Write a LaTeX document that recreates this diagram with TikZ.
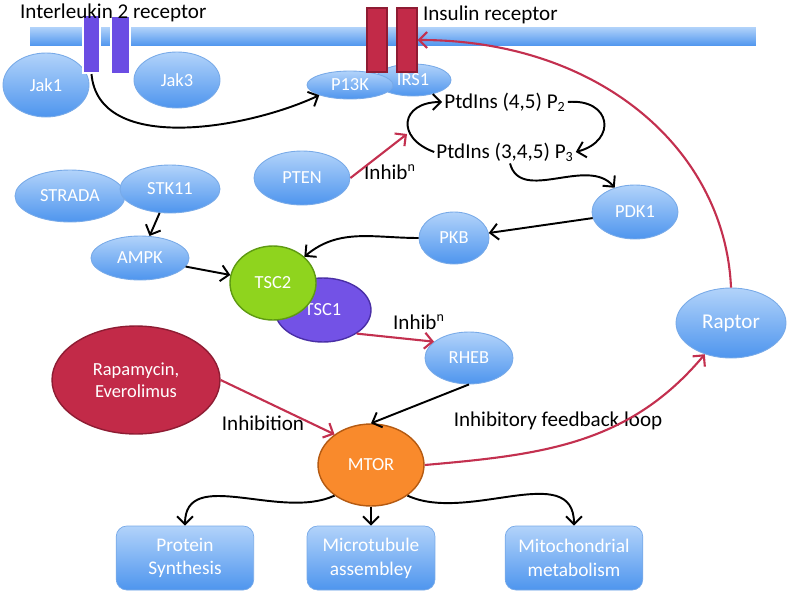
\documentclass[tikz,border=0pt]{standalone}
\usepackage{fontspec}
\setmainfont{Carlito}
\usetikzlibrary{shapes.geometric,arrows.meta}

\definecolor{bluetop}{HTML}{B2D3FA}
\definecolor{bluebot}{HTML}{4E95EE}
\definecolor{blueedge}{HTML}{78AAE8}
\definecolor{inhred}{HTML}{C3304F}
\definecolor{drugred}{HTML}{C22A48}
\definecolor{drugedge}{HTML}{8E1C33}
\definecolor{ilpurple}{HTML}{6B4DE3}
\definecolor{tscgreen}{HTML}{8FD41E}
\definecolor{tscgreenedge}{HTML}{5E9A12}
\definecolor{tscpurple}{HTML}{7352E6}
\definecolor{tscpurpleedge}{HTML}{4A2FA6}
\definecolor{mtororange}{HTML}{F98A2C}
\definecolor{mtoredge}{HTML}{B45A12}

\begin{document}
\begin{tikzpicture}[
  x=0.02cm, y=-0.02cm,
  every node/.style={font=\fontsize{10.5}{12.5}\selectfont},
  prot/.style={ellipse, draw=blueedge, line width=0.5pt, top color=bluetop, bottom color=bluebot, text=white, inner sep=0pt},
  recep/.style={rectangle, inner sep=0pt, minimum width=0.36cm, minimum height=1.2cm},
  outbox/.style={rectangle, rounded corners=6pt, draw=blueedge, top color=bluetop, bottom color=bluebot, text=white, align=center, minimum width=2.75cm, minimum height=1.28cm, font=\fontsize{11}{13.5}\selectfont},
  lbl/.style={font=\fontsize{12}{14}\selectfont, inner sep=1pt},
  arrow/.style={-{Straight Barb[length=1.6mm,width=3.2mm]}, line width=1.1pt},
  inhib/.style={arrow, draw=inhred, line width=1.2pt}
]
\useasboundingbox (0,0) rectangle (793,598);

% Membrane
\node[rectangle, inner sep=0pt, top color=bluetop, bottom color=bluebot, minimum width=14.52cm, minimum height=0.38cm] (membrane) at (393,36.5) {};

% Receptor complexes
\node[prot, minimum width=1.72cm, minimum height=1.28cm] (jak1) at (46,85) {Jak1};
\node[prot, minimum width=1.72cm, minimum height=1.12cm] (jak3) at (177,80) {Jak3};
\node[prot, minimum width=1.52cm, minimum height=0.64cm] (irs1) at (413,80) {IRS1};
\node[prot, minimum width=1.72cm, minimum height=0.56cm] (pik) at (350,85) {P13K};

\node[recep, fill=ilpurple, draw=white, line width=1.2pt, minimum width=0.34cm, minimum height=1.16cm] (il2a) at (91.5,44) {};
\node[recep, fill=ilpurple, draw=white, line width=1.2pt, minimum width=0.38cm, minimum height=1.16cm] (il2b) at (120.5,45) {};
\node[recep, fill=drugred, draw=drugedge, line width=0.8pt, minimum width=0.4cm, minimum height=1.28cm] (insa) at (377,40) {};
\node[recep, fill=drugred, draw=drugedge, line width=0.8pt, minimum width=0.4cm, minimum height=1.28cm] (insb) at (407,40) {};

\node[lbl, anchor=west] (il2lbl) at (18,13) {Interleukin 2 receptor};
\node[lbl, anchor=west] (inslbl) at (421,15) {Insulin receptor};

% Lipids
\node[lbl] (pip2) at (505,102) {PtdIns (4,5) P\textsubscript{2}};
\node[lbl] (pip3) at (505,152) {PtdIns (3,4,5) P\textsubscript{3}};
\coordinate (cyc) at (407,134);

% Signalling proteins
\node[prot, minimum width=1.92cm, minimum height=1.08cm] (pten) at (302,178) {PTEN};
\node[prot, minimum width=2.2cm, minimum height=1.04cm] (strada) at (70,196) {STRADA};
\node[prot, minimum width=2.0cm, minimum height=0.96cm] (stk11) at (170,189) {STK11};
\node[prot, minimum width=1.96cm, minimum height=0.88cm] (ampk) at (140,258) {AMPK};
\node[prot, minimum width=1.4cm, minimum height=1.04cm] (pkb) at (454,238) {PKB};
\node[prot, minimum width=1.72cm, minimum height=1.08cm] (pdk1) at (635,212) {PDK1};
\node[prot, minimum width=2.2cm, minimum height=1.4cm, font=\fontsize{12}{14}\selectfont] (raptor) at (731,323) {Raptor};
\node[prot, minimum width=1.76cm, minimum height=1.04cm] (rheb) at (469,358) {RHEB};

\node[ellipse, draw=tscpurpleedge, fill=tscpurple, line width=0.8pt, text=white, inner sep=0pt, minimum width=1.92cm, minimum height=1.28cm] (tsc1) at (323,310) {TSC1};
\node[ellipse, draw=tscgreenedge, fill=tscgreen, line width=0.8pt, text=white, inner sep=0pt, minimum width=1.72cm, minimum height=1.48cm] (tsc2) at (273,283) {TSC2};

\node[ellipse, draw=drugedge, fill=drugred, line width=0.8pt, text=white, align=center, inner sep=0pt, minimum width=3.36cm, minimum height=2.16cm] (rapa) at (136,380) {Rapamycin,\\Everolimus};
\node[ellipse, draw=mtoredge, fill=mtororange, line width=0.8pt, text=white, inner sep=0pt, minimum width=2.12cm, minimum height=1.64cm] (mtor) at (371,465) {MTOR};

% Outputs
\node[outbox] (prot) at (185,558) {Protein\\Synthesis};
\node[outbox, minimum width=2.56cm] (micro) at (371,558) {Microtubule\\assembley};
\node[outbox] (mito) at (574,558) {Mitochondrial\\metabolism};

% Labels
\node[lbl] (inhib1) at (390,172) {Inhib\textsuperscript{n}};
\node[lbl] (inhib2) at (419,322) {Inhib\textsuperscript{n}};
\node[lbl] (inhib3) at (263,423) {Inhibition};
\node[lbl] (fbl) at (558,421) {Inhibitory feedback loop};

% Arrows
\draw[arrow] (il2a.south) to[out=-85,in=205,looseness=0.9] (pik.south west);
\draw[arrow] (pip3.west) to[out=160,in=180,looseness=2.1] (pip2.west);
\draw[arrow] (pip2.east) to[out=5,in=15,looseness=2.2] (pip3.east);
\draw[inhib] (pten.east) -- (cyc);
\draw[arrow] ([xshift=0.1cm]pip3.south) to[out=-75,in=130] (pdk1);
\draw[arrow] (pdk1) -- (pkb);
\draw[arrow] (pkb.west) to[out=180,in=40] (tsc2);
\draw[arrow] (stk11) -- (ampk);
\draw[arrow] (ampk) -- (tsc2);
\draw[inhib] (tsc1.-35) -- (rheb.155);
\draw[arrow] (rheb.south) -- (mtor.north);
\draw[inhib] (rapa.east) -- (mtor.140);
\draw[inhib] (mtor.east) to[out=5,in=230] (raptor);
\draw[inhib] (raptor.north) .. controls (725,150) and (600,40) .. (insb.east);
\draw[arrow] (mtor.-140) to[out=-155,in=90] (prot.north);
\draw[arrow] (mtor.south) -- (micro.north);
\draw[arrow] (mtor.-40) to[out=-25,in=90] (mito.north);

\end{tikzpicture}
\end{document}
